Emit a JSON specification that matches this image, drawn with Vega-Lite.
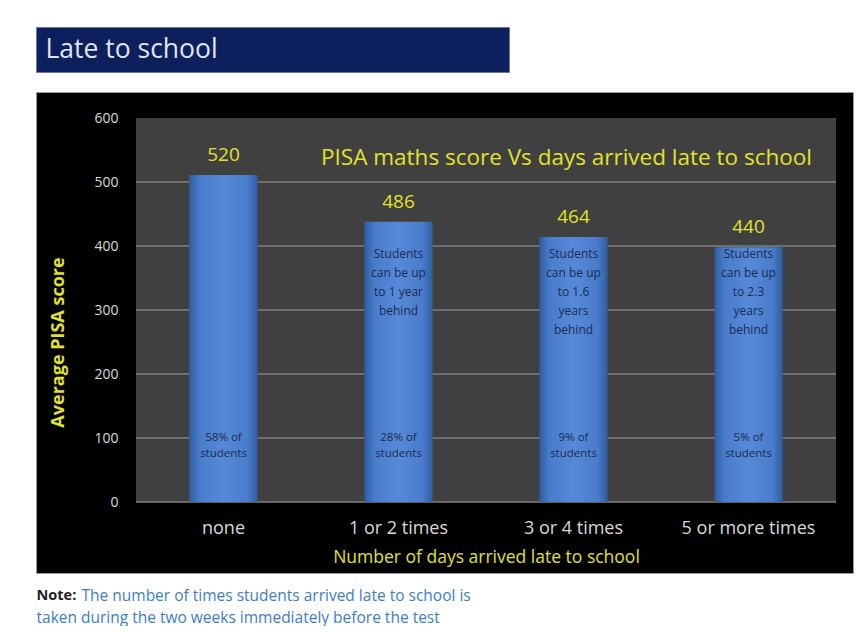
{
  "$schema": "https://vega.github.io/schema/vega-lite/v6.json",
  "background": "white",
  "padding": {"left": 35, "top": 26, "right": 10, "bottom": 0},
  "autosize": {"type": "pad"},
  "config": {"font": "Open Sans", "view": {"stroke": null}},
  "datasets": {
    "scores": [
      {"late": "none", "bar": 511, "score": 520, "top_note": "", "share": "58% of\nstudents"},
      {"late": "1 or 2 times", "bar": 438, "score": 486, "top_note": "Students\ncan be up\nto  1 year\nbehind", "share": "28% of\nstudents"},
      {"late": "3 or 4 times", "bar": 414, "score": 464, "top_note": "Students\ncan be up\nto  1.6\nyears\nbehind", "share": "9% of\nstudents"},
      {"late": "5 or more times", "bar": 398, "score": 440, "top_note": "Students\ncan be up\nto  2.3\nyears\nbehind", "share": "5% of\nstudents"}
    ],
    "grid": [{"v": 0}, {"v": 100}, {"v": 200}, {"v": 300}, {"v": 400}, {"v": 500}],
    "heading": [{"t": "Late to school"}],
    "subtitle": [{"t": "PISA maths score Vs days arrived late to school"}],
    "note": [{"head": "Note:", "line1": "The number of times students arrived late to school is", "line2": "taken during the two weeks immediately before the test"}]
  },
  "spacing": 13,
  "vconcat": [
    {
      "spacing": 18,
      "vconcat": [
        {
          "width": 473,
          "height": 45,
          "view": {"fill": "#0e1f5e", "stroke": "#6b78a8", "strokeWidth": 1},
          "data": {"name": "heading"},
          "mark": {"type": "text", "align": "left", "baseline": "middle", "dx": -227, "fontSize": 26.5, "color": "#dfe4f2"},
          "encoding": {"text": {"field": "t", "type": "nominal"}}
        },
        {
          "width": 817,
          "height": 481,
          "view": {"fill": "#000000", "stroke": "#9a9a9a", "strokeWidth": 1},
          "layer": [
            {
              "data": {"name": "scores"},
              "mark": {"type": "bar", "color": "#404040", "width": {"band": 1}},
              "encoding": {
                "x": {
                  "field": "late", "type": "nominal",
                  "scale": {"domain": ["none", "1 or 2 times", "3 or 4 times", "5 or more times"], "range": [100, 800], "paddingInner": 0, "paddingOuter": 0},
                  "axis": {
                    "offset": -71, "domain": false, "ticks": false, "labelAngle": 0, "labelPadding": 17,
                    "labelFontSize": 18, "labelColor": "#d9d9d9",
                    "title": "Number of days arrived late to school", "titleColor": "#e2e22c", "titleFontSize": 17.5,
                    "titleFontWeight": "normal", "titlePadding": 11
                  }
                },
                "y": {
                  "datum": 600, "type": "quantitative",
                  "scale": {"domain": [0, 600], "range": [410, 26], "nice": false},
                  "axis": {
                    "offset": -100, "values": [0, 100, 200, 300, 400, 500, 600], "domain": false, "ticks": false, "grid": false,
                    "labelPadding": 18, "labelFontSize": 14, "labelColor": "#d9d9d9",
                    "title": "Average PISA score", "titleColor": "#e2e22c", "titleFontSize": 18, "titleFontWeight": "bold",
                    "titlePadding": 26, "titleY": 250
                  }
                },
                "y2": {"datum": 0}
              }
            },
            {
              "data": {"name": "grid"},
              "mark": {"type": "rule", "color": "#7f7f7f", "strokeWidth": 1.3},
              "encoding": {
                "x": {"datum": "none", "bandPosition": 0},
                "x2": {"datum": "5 or more times", "bandPosition": 1},
                "y": {"field": "v", "type": "quantitative", "title": "Average PISA score"}
              }
            },
            {
              "data": {"name": "scores"},
              "mark": {
                "type": "bar", "width": {"band": 0.39},
                "color": {"gradient": "linear", "x1": 0, "y1": 0, "x2": 1, "y2": 0,
                  "stops": [
                    {"offset": 0, "color": "#2f5d9e"},
                    {"offset": 0.15, "color": "#4a7ccc"},
                    {"offset": 0.5, "color": "#5689d8"},
                    {"offset": 0.85, "color": "#4a7ccc"},
                    {"offset": 1, "color": "#2f5d9e"}
                  ]}
              },
              "encoding": {
                "x": {"field": "late", "type": "nominal"},
                "y": {"field": "bar", "type": "quantitative", "title": "Average PISA score"}
              }
            },
            {
              "data": {"name": "scores"},
              "mark": {"type": "text", "baseline": "middle", "dy": -20, "fontSize": 19, "color": "#e2e22c"},
              "encoding": {
                "x": {"field": "late", "type": "nominal"},
                "y": {"field": "bar", "type": "quantitative", "title": "Average PISA score"},
                "text": {"field": "score", "type": "quantitative"}
              }
            },
            {
              "data": {"name": "scores"},
              "mark": {"type": "text", "baseline": "top", "lineBreak": "\n", "lineHeight": 19, "fontSize": 12, "color": "#1d2b4f"},
              "encoding": {
                "x": {"field": "late", "type": "nominal"},
                "y": {"datum": 395, "type": "quantitative"},
                "text": {"field": "top_note", "type": "nominal"}
              }
            },
            {
              "data": {"name": "scores"},
              "mark": {"type": "text", "baseline": "top", "lineBreak": "\n", "lineHeight": 16, "fontSize": 11.5, "color": "#1d2b4f"},
              "encoding": {
                "x": {"field": "late", "type": "nominal"},
                "y": {"datum": 109, "type": "quantitative"},
                "text": {"field": "share", "type": "nominal"}
              }
            },
            {
              "data": {"name": "subtitle"},
              "mark": {"type": "text", "baseline": "middle", "dx": -7, "fontSize": 22.5, "color": "#e2e22c"},
              "encoding": {
                "x": {"datum": "3 or 4 times"},
                "y": {"datum": 537, "type": "quantitative"},
                "text": {"field": "t", "type": "nominal"}
              }
            }
          ]
        }
      ]
    },
    {
      "width": 1,
      "height": 1,
      "data": {"name": "note"},
      "layer": [
        {
          "mark": {"type": "text", "align": "left", "baseline": "middle", "dy": -1, "fontSize": 14.5, "fontWeight": "bold", "color": "#222222"},
          "encoding": {"text": {"field": "head", "type": "nominal"}}
        },
        {
          "mark": {"type": "text", "align": "left", "baseline": "middle", "dx": 45, "dy": -1, "fontSize": 15.5, "color": "#3d7dc8"},
          "encoding": {"text": {"field": "line1", "type": "nominal"}}
        },
        {
          "mark": {"type": "text", "align": "left", "baseline": "middle", "dy": 21, "fontSize": 15.5, "color": "#3d7dc8"},
          "encoding": {"text": {"field": "line2", "type": "nominal"}}
        }
      ]
    }
  ]
}
